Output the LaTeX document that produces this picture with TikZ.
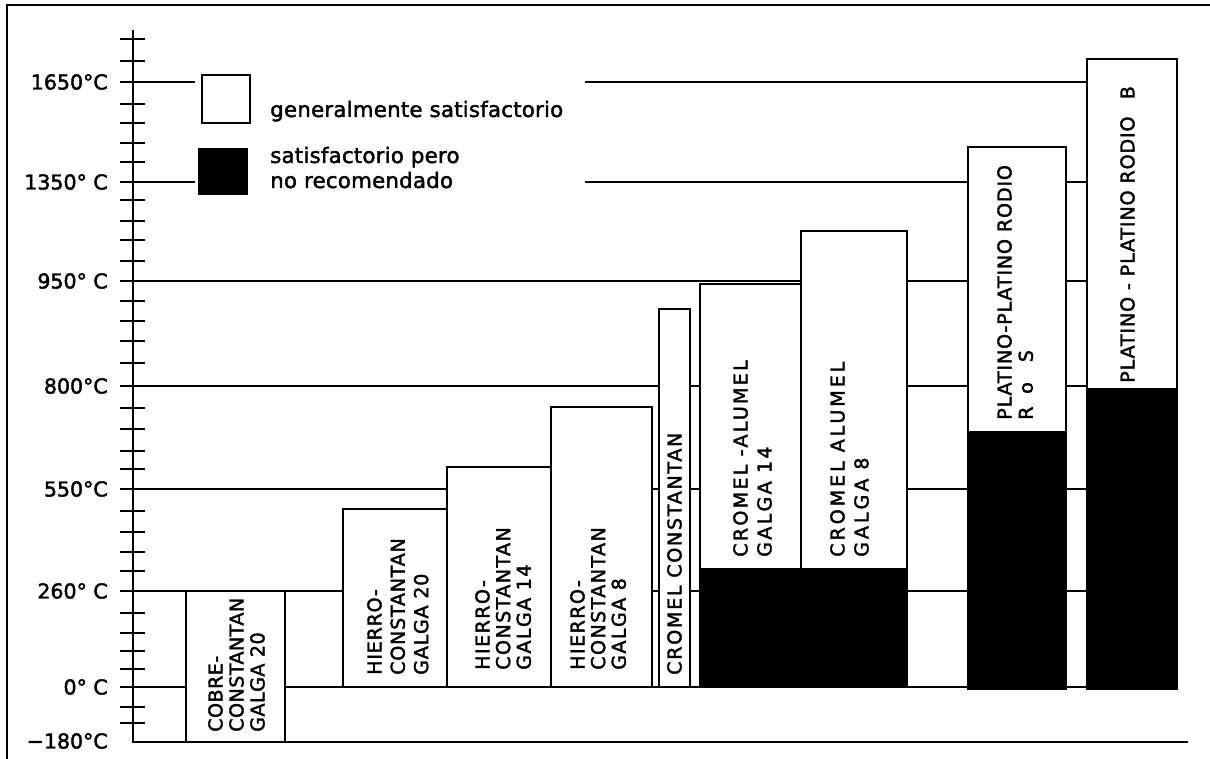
\documentclass[tikz,border=0pt]{standalone}
\usepackage{fontspec}
\setmainfont{DejaVu Sans}
\begin{document}
\begin{tikzpicture}[x=0.75pt,y=-0.75pt,
  frame/.style={line width=2pt},
  axis/.style={line width=1.6pt},
  gridline/.style={line width=0.9pt},
  tickmark/.style={line width=1.5pt},
  bar/.style={draw,line width=1.5pt,fill=white},
  blk/.style={fill=black,draw=black,line width=1.5pt},
  ylab/.style={anchor=east,inner sep=0pt,font=\fontsize{15.4}{18}\selectfont\addfontfeature{FakeBold=2}},
  bartext/.style={rotate=90,anchor=north west,inner sep=0pt,align=left},
  bfont/.style 2 args={font=\fontsize{14.3}{#2}\selectfont\addfontfeature{LetterSpace=#1,FakeBold=2}},
  legtext/.style={anchor=base west,inner sep=0pt,font=\fontsize{16}{18.75}\selectfont\addfontfeature{LetterSpace=1,FakeBold=1.8}}]
\useasboundingbox (0,0) rectangle (1210,759);
% frame
\draw[frame] (7,759) -- (7,5) -- (1210,5);
% grid lines
\foreach \yy in {82,182} {
  \draw[gridline] (120,\yy) -- (195,\yy);
  \draw[gridline] (585,\yy) -- (1087,\yy);
}
\foreach \yy in {281,386,489,591} \draw[gridline] (120,\yy) -- (1087,\yy);
\draw[gridline] (120,687) -- (1177,687);
% ticks
\foreach \yy in {39,61,82,104,123,143,162,182,200,221,240,261,281,301,321,341,363,386,408,429,451,469,489,511,532,552,571,591,613,633,651,669,687,707,723}
  \draw[tickmark] (120,\yy) -- (145,\yy);
% axes
\draw[axis] (133,30) -- (133,742) -- (1188,742);
% y labels
\node[ylab] (l1650) at (108,82) {1650°C};
\node[ylab] (l1350) at (108,182) {1350° C};
\node[ylab] (l950) at (108,281) {950° C};
\node[ylab] (l800) at (108,386) {800°C};
\node[ylab] (l550) at (108,489) {550°C};
\node[ylab] (l260) at (108,591) {260° C};
\node[ylab] (l0) at (108,687) {0° C};
\node[ylab] (lm180) at (108,741) {−180°C};
% legend
\draw[line width=1.5pt] (202,75) rectangle (250,123);
\fill (198,148) rectangle (248,195);
\node[legtext] (leg1) at (270,117) {generalmente satisfactorio};
\node[legtext] (leg2) at (270,163) {satisfactorio pero};
\node[legtext] (leg3) at (270,188) {no recomendado};
% bars
\draw[bar] (186,591) rectangle (285,742);
\draw[bar] (343,509) rectangle (447,687);
\draw[bar] (447,467) rectangle (551,687);
\draw[bar] (551,407) rectangle (652,687);
\draw[bar] (659,309) rectangle (690,687);
\draw[bar] (700,284) rectangle (801,687);
\draw[blk] (700,569) rectangle (801,687);
\draw[bar] (801,231) rectangle (907,687);
\draw[blk] (801,569) rectangle (907,687);
\draw[bar] (968,147) rectangle (1066,689);
\draw[blk] (968,432) rectangle (1066,689);
\draw[bar] (1087,59) rectangle (1177,689);
\draw[blk] (1087,389) rectangle (1177,689);
% bar labels
\node[bartext,bfont={2.5}{15.75pt}] (t1) at (208,732) {COBRE-\\CONSTANTAN\\GALGA 20};
\node[bartext,bfont={4}{17.5pt}] (t2) at (367,675) {HIERRO-\\CONSTANTAN\\GALGA 20};
\node[bartext,bfont={7.5}{15.5pt}] (t3) at (475,670) {HIERRO-\\CONSTANTAN\\GALGA 14};
\node[bartext,bfont={7.5}{15.5pt}] (t4) at (570,670) {HIERRO-\\CONSTANTAN\\GALGA 8};
\node[bartext,bfont={9}{15.75pt}] (t5) at (667,675) {CROMEL CONSTANTAN};
\node[bartext,bfont={12}{18pt}] (t6) at (733,557) {CROMEL -ALUMEL\\GALGA 14};
\node[bartext,bfont={15.5}{18pt}] (t7) at (830,557) {CROMEL ALUMEL\\GALGA 8};
\node[bartext,bfont={4.5}{16pt}] (t8) at (997,420) {PLATINO-PLATINO RODIO\\R\hspace{9.5pt}o\hspace{15pt}S};
\node[bartext,bfont={4.5}{15.75pt}] (t9) at (1120,383) {PLATINO - PLATINO RODIO\hspace{13pt}B};
\end{tikzpicture}
\end{document}
